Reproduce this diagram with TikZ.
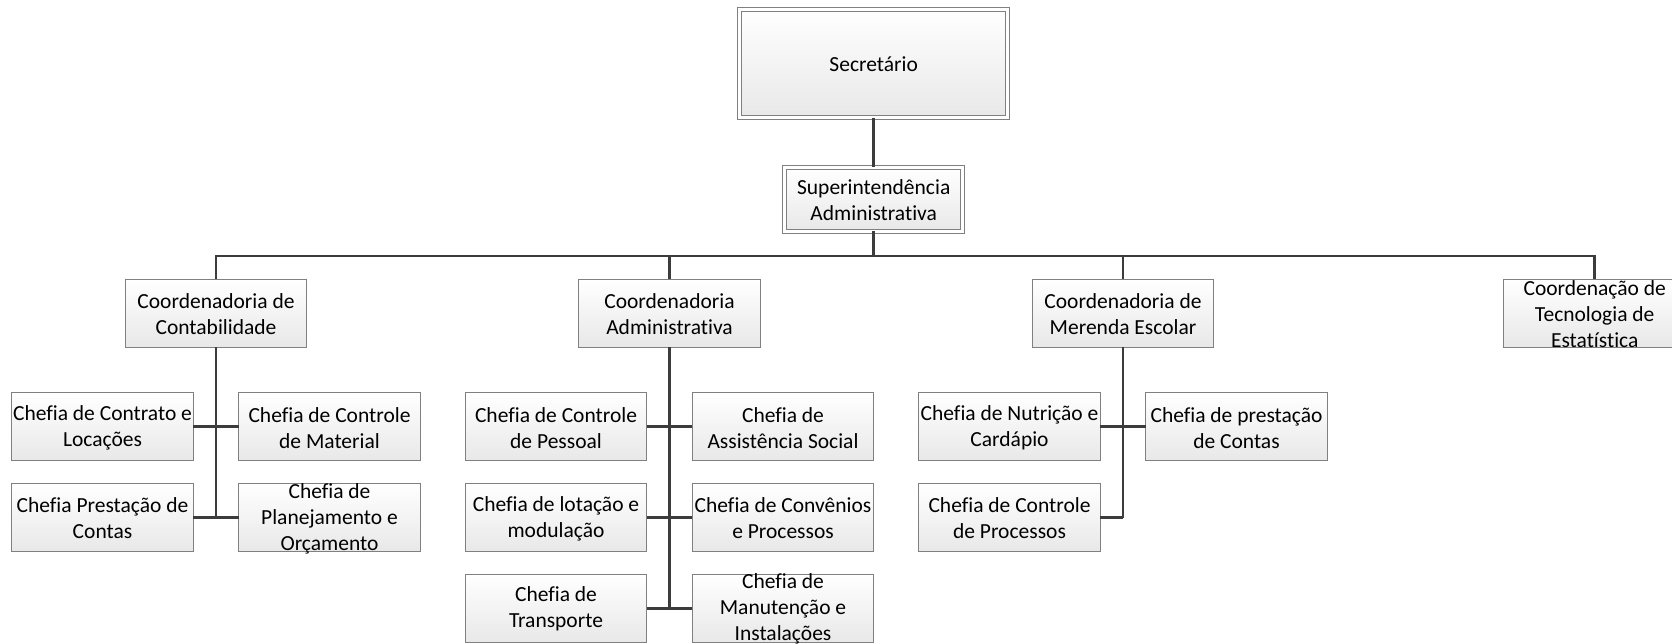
\documentclass[tikz,border=0pt]{standalone}
\usepackage{fontspec}
\setmainfont{Carlito}[Ligatures={NoCommon}]
\usetikzlibrary{shadings}
\definecolor{boxborder}{HTML}{808080}
\definecolor{boxbottom}{HTML}{E8E8E8}
\definecolor{connclr}{HTML}{3C3C3C}
\tikzset{
  base/.style={rectangle, inner sep=0pt, outer sep=0pt, draw=boxborder, line width=1pt,
    top color=white, bottom color=boxbottom},
  box/.style={base, minimum width=181.5pt, minimum height=68pt},
  dbl/.style={base, double=white, double distance=3pt},
  txt/.style={align=center, inner sep=0pt, yshift=-1pt, font=\fontsize{21.5}{26}\selectfont, text=black},
  conn/.style={draw=connclr, line width=2.8pt},
}
\begin{document}
\begin{tikzpicture}[x=1pt,y=-1pt]
\useasboundingbox (0,0) rectangle (1672,643);
% top
\node[dbl, minimum width=268pt, minimum height=108.4pt, label={[txt]center:Secretário}] (sec) at (873.7,63.5) {};
\node[dbl, minimum width=178pt, minimum height=64pt, label={[txt]center:Superintendência\\Administrativa}] (sup) at (873.7,199.3) {};
% coordinators
\node[box, label={[txt]center:Coordenadoria de\\Contabilidade}] (cont) at (216,313) {};
\node[box, label={[txt]center:Coordenadoria\\Administrativa}] (adm) at (669.5,313) {};
\node[box, label={[txt]center:Coordenadoria de\\Merenda Escolar}] (mer) at (1123,313) {};
\node[box, label={[txt]center:Coordenação de\\Tecnologia de\\Estatística}] (tec) at (1594.7,313) {};
% Contabilidade children
\node[box, label={[txt]center:Chefia de Contrato e\\Locações}] (c1) at (102.5,426.7) {};
\node[box, label={[txt]center:Chefia de Controle\\de Material}] (c2) at (329.5,426.7) {};
\node[box, label={[txt]center:Chefia Prestação de\\Contas}] (c3) at (102.5,517.5) {};
\node[box, label={[txt]center:Chefia de\\Planejamento e\\Orçamento}] (c4) at (329.5,517.5) {};
% Administrativa children
\node[box, label={[txt]center:Chefia de Controle\\de Pessoal}] (a1) at (556,426.7) {};
\node[box, label={[txt]center:Chefia de\\Assistência Social}] (a2) at (783,426.7) {};
\node[box, label={[txt]center:Chefia de lotação e\\modulação}] (a3) at (556,517.5) {};
\node[box, label={[txt]center:Chefia de Convênios\\e Processos}] (a4) at (783,517.5) {};
\node[box, label={[txt]center:Chefia de\\Transporte}] (a5) at (556,608.2) {};
\node[box, label={[txt]center:Chefia de\\Manutenção e\\Instalações}] (a6) at (783,608.2) {};
% Merenda children
\node[box, label={[txt]center:Chefia de Nutrição e\\Cardápio}] (m1) at (1009.5,426.7) {};
\node[box, label={[txt]center:Chefia de prestação\\de Contas}] (m2) at (1236.5,426.7) {};
\node[box, label={[txt]center:Chefia de Controle\\de Processos}] (m3) at (1009.5,517.5) {};
% connectors
\coordinate (bus) at (873.7,256);
\draw[conn] (sec.south) -- (sup.north);
\draw[conn] (sup.south) -- (bus);
\draw[conn] (cont.north) |- (bus) -| (tec.north);
\draw[conn] (adm.north) -- (adm.north |- bus);
\draw[conn] (mer.north) -- (mer.north |- bus);
\draw[conn] (cont.south) -- (cont.south |- c3.east);
\draw[conn] (c1.east) -- (c2.west);
\draw[conn] (c3.east) -- (c4.west);
\draw[conn] (adm.south) -- (adm.south |- a5.east);
\draw[conn] (a1.east) -- (a2.west);
\draw[conn] (a3.east) -- (a4.west);
\draw[conn] (a5.east) -- (a6.west);
\draw[conn] (mer.south) -- (mer.south |- m3.east);
\draw[conn] (m1.east) -- (m2.west);
\draw[conn] (m3.east) -- (mer.south |- m3.east);
\end{tikzpicture}
\end{document}
